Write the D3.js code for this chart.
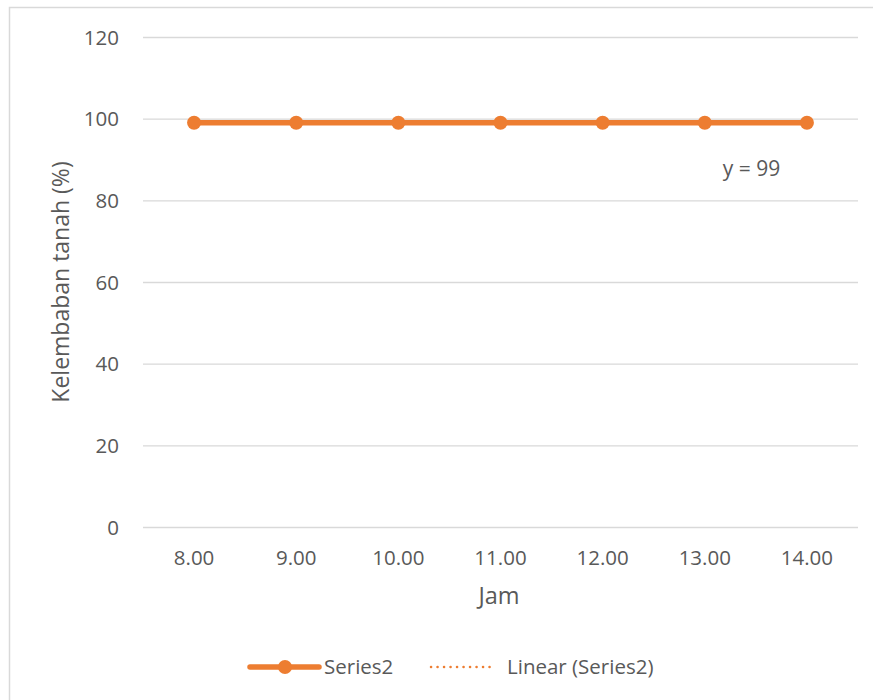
<!DOCTYPE html>
<html>
<head>
<meta charset="utf-8">
<script src="https://cdn.jsdelivr.net/npm/d3@7"></script>
<style>
  html, body { margin: 0; padding: 0; background: #fff; }
  svg { display: block; font-family: "Open Sans", "Noto Sans", sans-serif; }
</style>
</head>
<body>
<svg id="chart" width="873" height="700"></svg>
<script>
// Soil moisture readings per hour
const hours = ["8.00", "9.00", "10.00", "11.00", "12.00", "13.00", "14.00"];
const moisture = [99, 99, 99, 99, 99, 99, 99];
const yTicks = [0, 20, 40, 60, 80, 100, 120];
const seriesName = "Series2";
const trendName = "Linear (Series2)";
const trendLabel = "y = 99";

const orange = "#ED7D31";
const textColor = "#595959";
const gridColor = "#d9d9d9";

const svg = d3.select("#chart");

// chart area border
svg.append("rect")
  .attr("x", 9.5).attr("y", 7.5)
  .attr("width", 880).attr("height", 720)
  .attr("fill", "#fff")
  .attr("stroke", "#d9d9d9").attr("stroke-width", 1.5);

const plot = { left: 143, right: 858, top: 37, bottom: 527 };

const x = d3.scaleBand().domain(hours).range([plot.left, plot.right]);
const y = d3.scaleLinear().domain([0, 120]).range([plot.bottom, plot.top]);
const cx = d => x(d) + x.bandwidth() / 2;

// horizontal gridlines and y labels
const yAxis = d3.axisLeft(y).tickValues(yTicks).tickSize(-(plot.right - plot.left)).tickPadding(24);
const gy = svg.append("g").attr("transform", `translate(${plot.left},0)`).call(yAxis);
gy.select(".domain").remove();
gy.selectAll(".tick line").attr("stroke", gridColor).attr("stroke-width", 1.3);
gy.selectAll(".tick text").attr("fill", textColor).style("font-size", "20.5px")
  .attr("font-family", "Open Sans, sans-serif").attr("dy", "0.35em");

// x labels
const xAxis = d3.axisBottom(x).tickSize(0).tickPadding(0);
const gx = svg.append("g").attr("transform", `translate(0,${plot.bottom})`).call(xAxis);
gx.select(".domain").remove();
gx.selectAll(".tick text").attr("fill", textColor).style("font-size", "20.5px")
  .attr("font-family", "Open Sans, sans-serif").attr("y", 38).attr("dy", "0");

// axis titles
svg.append("text")
  .attr("x", 499).attr("y", 604)
  .attr("text-anchor", "middle")
  .attr("fill", textColor).style("font-size", "23.5px")
  .text("Jam");
svg.append("text")
  .attr("transform", `translate(69,${(plot.top + plot.bottom) / 2}) rotate(-90)`)
  .attr("text-anchor", "middle")
  .attr("fill", textColor).style("font-size", "23px")
  .text("Kelembaban tanah (%)");

// linear trendline (least squares)
const n = moisture.length;
const xs = d3.range(n);
const mx = d3.mean(xs), my = d3.mean(moisture);
const sxx = d3.sum(xs, i => (i - mx) ** 2);
const slope = d3.sum(xs, i => (i - mx) * (moisture[i] - my)) / sxx;
const intercept = my - slope * mx;
svg.append("line")
  .attr("x1", cx(hours[0])).attr("x2", cx(hours[n - 1]))
  .attr("y1", y(intercept)).attr("y2", y(intercept + slope * (n - 1)))
  .attr("stroke", orange).attr("stroke-width", 2.5)
  .attr("stroke-dasharray", "2 4").attr("stroke-linecap", "round");

// series line
const line = d3.line().x((d, i) => cx(hours[i])).y(d => y(d));
svg.append("path")
  .datum(moisture)
  .attr("d", line)
  .attr("fill", "none")
  .attr("stroke", orange).attr("stroke-width", 5.5)
  .attr("stroke-linecap", "round");

svg.selectAll("circle.pt")
  .data(moisture)
  .join("circle")
  .attr("class", "pt")
  .attr("cx", (d, i) => cx(hours[i]))
  .attr("cy", d => y(d))
  .attr("r", 7)
  .attr("fill", orange);

// trendline equation
svg.append("text")
  .attr("x", 751.5).attr("y", 176)
  .attr("text-anchor", "middle")
  .attr("fill", textColor).style("font-size", "21px")
  .text(trendLabel);

// legend
const ly = 667;
const lg = svg.append("g");
lg.append("line")
  .attr("x1", 250).attr("x2", 319).attr("y1", ly).attr("y2", ly)
  .attr("stroke", orange).attr("stroke-width", 5.5).attr("stroke-linecap", "round");
lg.append("circle").attr("cx", 285).attr("cy", ly).attr("r", 7).attr("fill", orange);
lg.append("text").attr("x", 324).attr("y", ly + 7)
  .attr("fill", textColor).style("font-size", "20.5px").text(seriesName);
lg.append("line")
  .attr("x1", 431).attr("x2", 496).attr("y1", ly).attr("y2", ly)
  .attr("stroke", orange).attr("stroke-width", 2.5)
  .attr("stroke-dasharray", "0.1 6.4").attr("stroke-linecap", "round");
lg.append("text").attr("x", 507).attr("y", ly + 7)
  .attr("fill", textColor).style("font-size", "20.5px").text(trendName);
</script>
</body>
</html>
